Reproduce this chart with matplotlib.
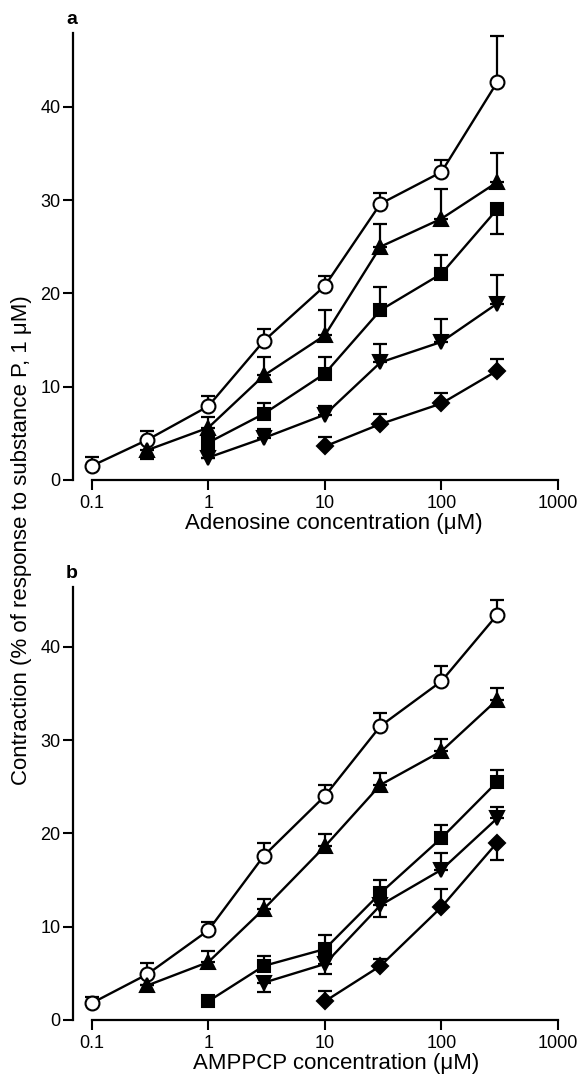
import matplotlib
matplotlib.use("Agg")
from matplotlib import pyplot as plt
import numpy as np

plt.rcParams['font.family'] = ['Liberation Sans', 'DejaVu Sans']

# concentrations (uM)
conc_all = [0.1, 0.3, 1, 3, 10, 30, 100, 300]

# panel a: adenosine.  err > 0 -> bar drawn upward, err < 0 -> downward
a_circle_x = conc_all
a_circle_y = [1.5, 4.3, 7.9, 14.9, 20.8, 29.6, 33.0, 42.6]
a_circle_err = [1.0, 1.0, 1.1, 1.3, 1.1, 1.2, 1.3, 5.0]

a_tri_x = [0.3, 1, 3, 10, 30, 100, 300]
a_tri_y = [3.2, 5.6, 11.2, 15.5, 25.0, 28.0, 31.9]
a_tri_err = [-1.0, 1.1, 2.0, 2.7, 2.4, 3.2, 3.1]

a_sq_x = [1, 3, 10, 30, 100, 300]
a_sq_y = [4.0, 7.1, 11.4, 18.2, 22.1, 29.0]
a_sq_err = [0, 1.2, 1.8, 2.5, 2.0, -2.6]

a_inv_x = [1, 3, 10, 30, 100, 300]
a_inv_y = [2.4, 4.5, 7.0, 12.6, 14.8, 18.9]
a_inv_err = [0, 1.0, 0.9, 2.0, 2.4, 3.1]

a_dia_x = [10, 30, 100, 300]
a_dia_y = [3.6, 6.0, 8.2, 11.7]
a_dia_err = [1.0, 1.1, 1.1, 1.3]

# panel b: AMPPCP
b_circle_x = conc_all
b_circle_y = [1.8, 4.9, 9.6, 17.6, 24.0, 31.5, 36.3, 43.4]
b_circle_err = [0.7, 1.2, 0.9, 1.4, 1.2, 1.4, 1.6, 1.6]

b_tri_x = [0.3, 1, 3, 10, 30, 100, 300]
b_tri_y = [3.7, 6.2, 11.9, 18.6, 25.2, 28.8, 34.3]
b_tri_err = [0, 1.2, 1.1, 1.3, 1.3, 1.3, 1.3]

b_sq_x = [1, 3, 10, 30, 100, 300]
b_sq_y = [2.0, 5.8, 7.6, 13.6, 19.5, 25.5]
b_sq_err = [0, 1.1, 1.5, 1.4, 1.4, 1.3]

b_inv_x = [3, 10, 30, 100, 300]
b_inv_y = [4.0, 6.0, 12.3, 16.1, 21.6]
b_inv_err = [-1.0, -1.1, -1.3, 1.8, 1.2]

b_dia_x = [10, 30, 100, 300]
b_dia_y = [2.0, 5.8, 12.1, 19.0]
b_dia_err = [1.1, 0.7, 1.9, -1.9]

xticks = [0.1, 1, 10, 100, 1000]
xtick_labels = ['0.1', '1', '10', '100', '1000']
yticks = [0, 10, 20, 30, 40]

styles = [
    dict(marker='o', ms=10, mfc='white'),
    dict(marker='^', ms=10, mfc='black'),
    dict(marker='s', ms=8, mfc='black'),
    dict(marker='v', ms=10, mfc='black'),
    dict(marker='D', ms=8, mfc='black'),
]


def draw_series(ax, x, y, err, st):
    err = np.array(err, dtype=float)
    lo = np.where(err < 0, -err, 0)
    hi = np.where(err > 0, err, 0)
    ax.errorbar(x, y, yerr=[lo, hi], fmt='none', ecolor='black',
                elinewidth=1.6, capsize=5, capthick=1.6, zorder=2)
    ax.plot(x, y, color='black', lw=1.7, marker=st['marker'],
            ms=st['ms'], mfc=st['mfc'], mec='black', mew=1.5, zorder=3)


def style_axes(ax, ytop):
    ax.set_xscale('log')
    ax.set_xlim(0.0692, 1000)
    ax.set_ylim(0, ytop)
    for s in ['top', 'right']:
        ax.spines[s].set_visible(False)
    ax.spines['left'].set_bounds(0, ytop)
    ax.spines['bottom'].set_bounds(0.1, 1000)
    ax.spines['left'].set_linewidth(1.6)
    ax.spines['bottom'].set_linewidth(1.6)
    ax.set_xticks(xticks)
    ax.set_xticklabels(xtick_labels)
    ax.xaxis.set_minor_locator(matplotlib.ticker.NullLocator())
    ax.set_yticks(yticks)
    ax.tick_params(axis='both', direction='out', length=7, width=1.5,
                   labelsize=13)
    ax.tick_params(axis='x', pad=4)
    ax.tick_params(axis='y', pad=2)
    ax.patch.set_visible(False)


W, H = 582, 1075
fig = plt.figure(figsize=(W / 100, H / 100), dpi=100)

x0 = 73
x1 = 558
ax_a = fig.add_axes([x0 / W, (H - 480) / H, (x1 - x0) / W, (480 - 33) / H])
ax_b = fig.add_axes([x0 / W, (H - 1020) / H, (x1 - x0) / W, (1020 - 587) / H])

for x, y, e, st in zip([a_circle_x, a_tri_x, a_sq_x, a_inv_x, a_dia_x],
                       [a_circle_y, a_tri_y, a_sq_y, a_inv_y, a_dia_y],
                       [a_circle_err, a_tri_err, a_sq_err, a_inv_err, a_dia_err],
                       styles):
    draw_series(ax_a, x, y, e, st)

for x, y, e, st in zip([b_circle_x, b_tri_x, b_sq_x, b_inv_x, b_dia_x],
                       [b_circle_y, b_tri_y, b_sq_y, b_inv_y, b_dia_y],
                       [b_circle_err, b_tri_err, b_sq_err, b_inv_err, b_dia_err],
                       styles):
    draw_series(ax_b, x, y, e, st)

style_axes(ax_a, 47.9)
style_axes(ax_b, 46.4)

fig.text(334 / W, 1 - 523 / H, 'Adenosine concentration (\u03bcM)',
         fontsize=16, ha='center', va='center')
fig.text(336 / W, 1 - 1063 / H, 'AMPPCP concentration (\u03bcM)',
         fontsize=16, ha='center', va='center')

fig.text(72 / W, 1 - 20 / H, 'a', fontsize=14, fontweight='bold',
         ha='center', va='center')
fig.text(72 / W, 1 - 574 / H, 'b', fontsize=14, fontweight='bold',
         ha='center', va='center')
fig.text(22 / W, 1 - 540 / H,
         'Contraction (% of response to substance P, 1 \u03bcM)',
         rotation=90, fontsize=16, ha='center', va='center')

fig.savefig('out.png', dpi=100)
